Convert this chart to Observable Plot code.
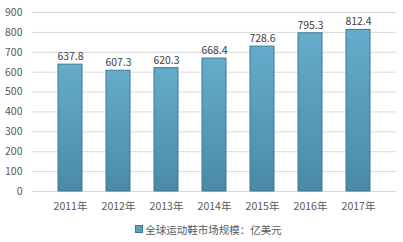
<!DOCTYPE html>
<html><head><meta charset="utf-8">
<script src="https://cdn.jsdelivr.net/npm/d3@7"></script>
<script src="https://cdn.jsdelivr.net/npm/@observablehq/plot@0.6"></script>
<style>
body{margin:0;background:#fff;font-family:"Noto Sans CJK SC","Noto Sans",sans-serif;}
#legend{position:absolute;left:7px;top:219px;width:403px;height:20px;display:flex;justify-content:center;align-items:center;font-size:10.5px;color:#595959;}
#legend span.sw{display:inline-block;width:6px;height:6px;background:#5b9dbd;border:0.5px solid #3b7a96;margin-right:2px;}
</style>
</head><body>
<div id="chart"></div>
<div id="legend"><span class="sw"></span><span>全球运动鞋市场规模：亿美元</span></div>
<script>
const years = ["2011年","2012年","2013年","2014年","2015年","2016年","2017年"];
const values = [637.8, 607.3, 620.3, 668.4, 728.6, 795.3, 812.4];
const yTicks = [0,100,200,300,400,500,600,700,800,900];
const data = years.map((y,i)=>({year:y, value:values[i]}));

const chart = Plot.plot({
  width: 403, height: 215,
  marginLeft: 32, marginRight: 7, marginTop: 12, marginBottom: 24,
  style: {fontFamily: '"Noto Sans CJK SC","Noto Sans",sans-serif', fontSize: "10.5px", color: "#595959", background: "#fff"},
  x: {domain: years, padding: 0.5, label: null, tickSize: 0, tickPadding: 11},
  y: {domain: [0, 900], ticks: yTicks, label: null, tickSize: 0, tickPadding: 10},
  marks: [
    Plot.ruleY(yTicks, {stroke: "#d9d9d9", strokeWidth: 1}),
    Plot.barY(data, {x: "year", y: "value", fill: "url(#barGrad)", stroke: "#3b7a96", strokeWidth: 1}),
    Plot.text(data, {x: "year", y: "value", text: d => d.value.toFixed(1), dy: -8, fill: "#404040", fontSize: 10.5})
  ]
});
const svg = d3.select(chart);
const defs = svg.insert("defs", ":first-child");
const g = defs.append("linearGradient").attr("id","barGrad").attr("x1","0").attr("y1","0").attr("x2","0").attr("y2","1");
g.append("stop").attr("offset","0%").attr("stop-color","#66abcb");
g.append("stop").attr("offset","100%").attr("stop-color","#4a8aa7");
document.getElementById("chart").appendChild(chart);
</script>
</body></html>
